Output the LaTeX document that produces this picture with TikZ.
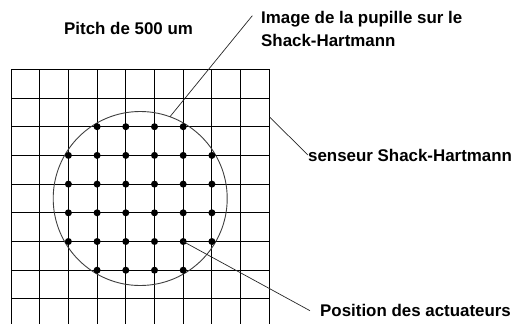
\documentclass[tikz,border=0pt]{standalone}
\usepackage{fontspec}
\setmainfont{Liberation Sans}
\usetikzlibrary{positioning}
\begin{document}
\begin{tikzpicture}[x=1pt,y=-1pt,
  font=\fontsize{16.9}{23}\selectfont\bfseries,
  gridline/.style={line width=1pt,draw=black},
  pupil/.style={circle,draw=black!75,line width=0.9pt,inner sep=0pt,outer sep=0pt,minimum size=174pt},
  actuator/.style={circle,fill=black,inner sep=0pt,minimum size=7pt},
  leader/.style={line width=0.7pt,draw=black!85},
  label/.style={inner sep=0pt,align=left,anchor=west}
]
\useasboundingbox (0,0) rectangle (513,324);
% grille du Shack-Hartmann
\foreach \i in {0,...,9}
  \draw[gridline] (11+\i*28.7,69.3) -- (11+\i*28.7,324);
\foreach \j in {0,...,8}
  \draw[gridline] (11,69.3+\j*28.7) -- (269.3,69.3+\j*28.7);
% image de la pupille
\node[pupil] (pupille) at (140.2,198.5) {};
% actuateurs
\foreach \i in {2,...,7}
  \foreach \j in {2,...,7}{
    \pgfmathtruncatemacro\dd{(2*\i-9)^2+(2*\j-9)^2}
    \ifnum\dd<36
      \node[actuator] (a-\i-\j) at (11+\i*28.7,69.3+\j*28.7) {};
    \fi
  }
% textes
\node[label] (pitch) at (64,28) {Pitch de 500 um};
\node[label] (image) at (261,28.5) {Image de la pupille sur le\\Shack-Hartmann};
\node[label] (senseur) at (308,155) {senseur Shack-Hartmann};
\node[label] (position) at (320,310.5) {Position des actuateurs};
\coordinate (image-end) at (252.3,15.7);
\coordinate (capteur) at (269.8,117.3);
\coordinate (position-end) at (310,310.7);
% lignes de rappel
\draw[leader] (pupille.70) -- (image-end);
\draw[leader] (capteur) -- (senseur.west);
\draw[leader] (a-6-6.center) -- (position-end);
\end{tikzpicture}
\end{document}
